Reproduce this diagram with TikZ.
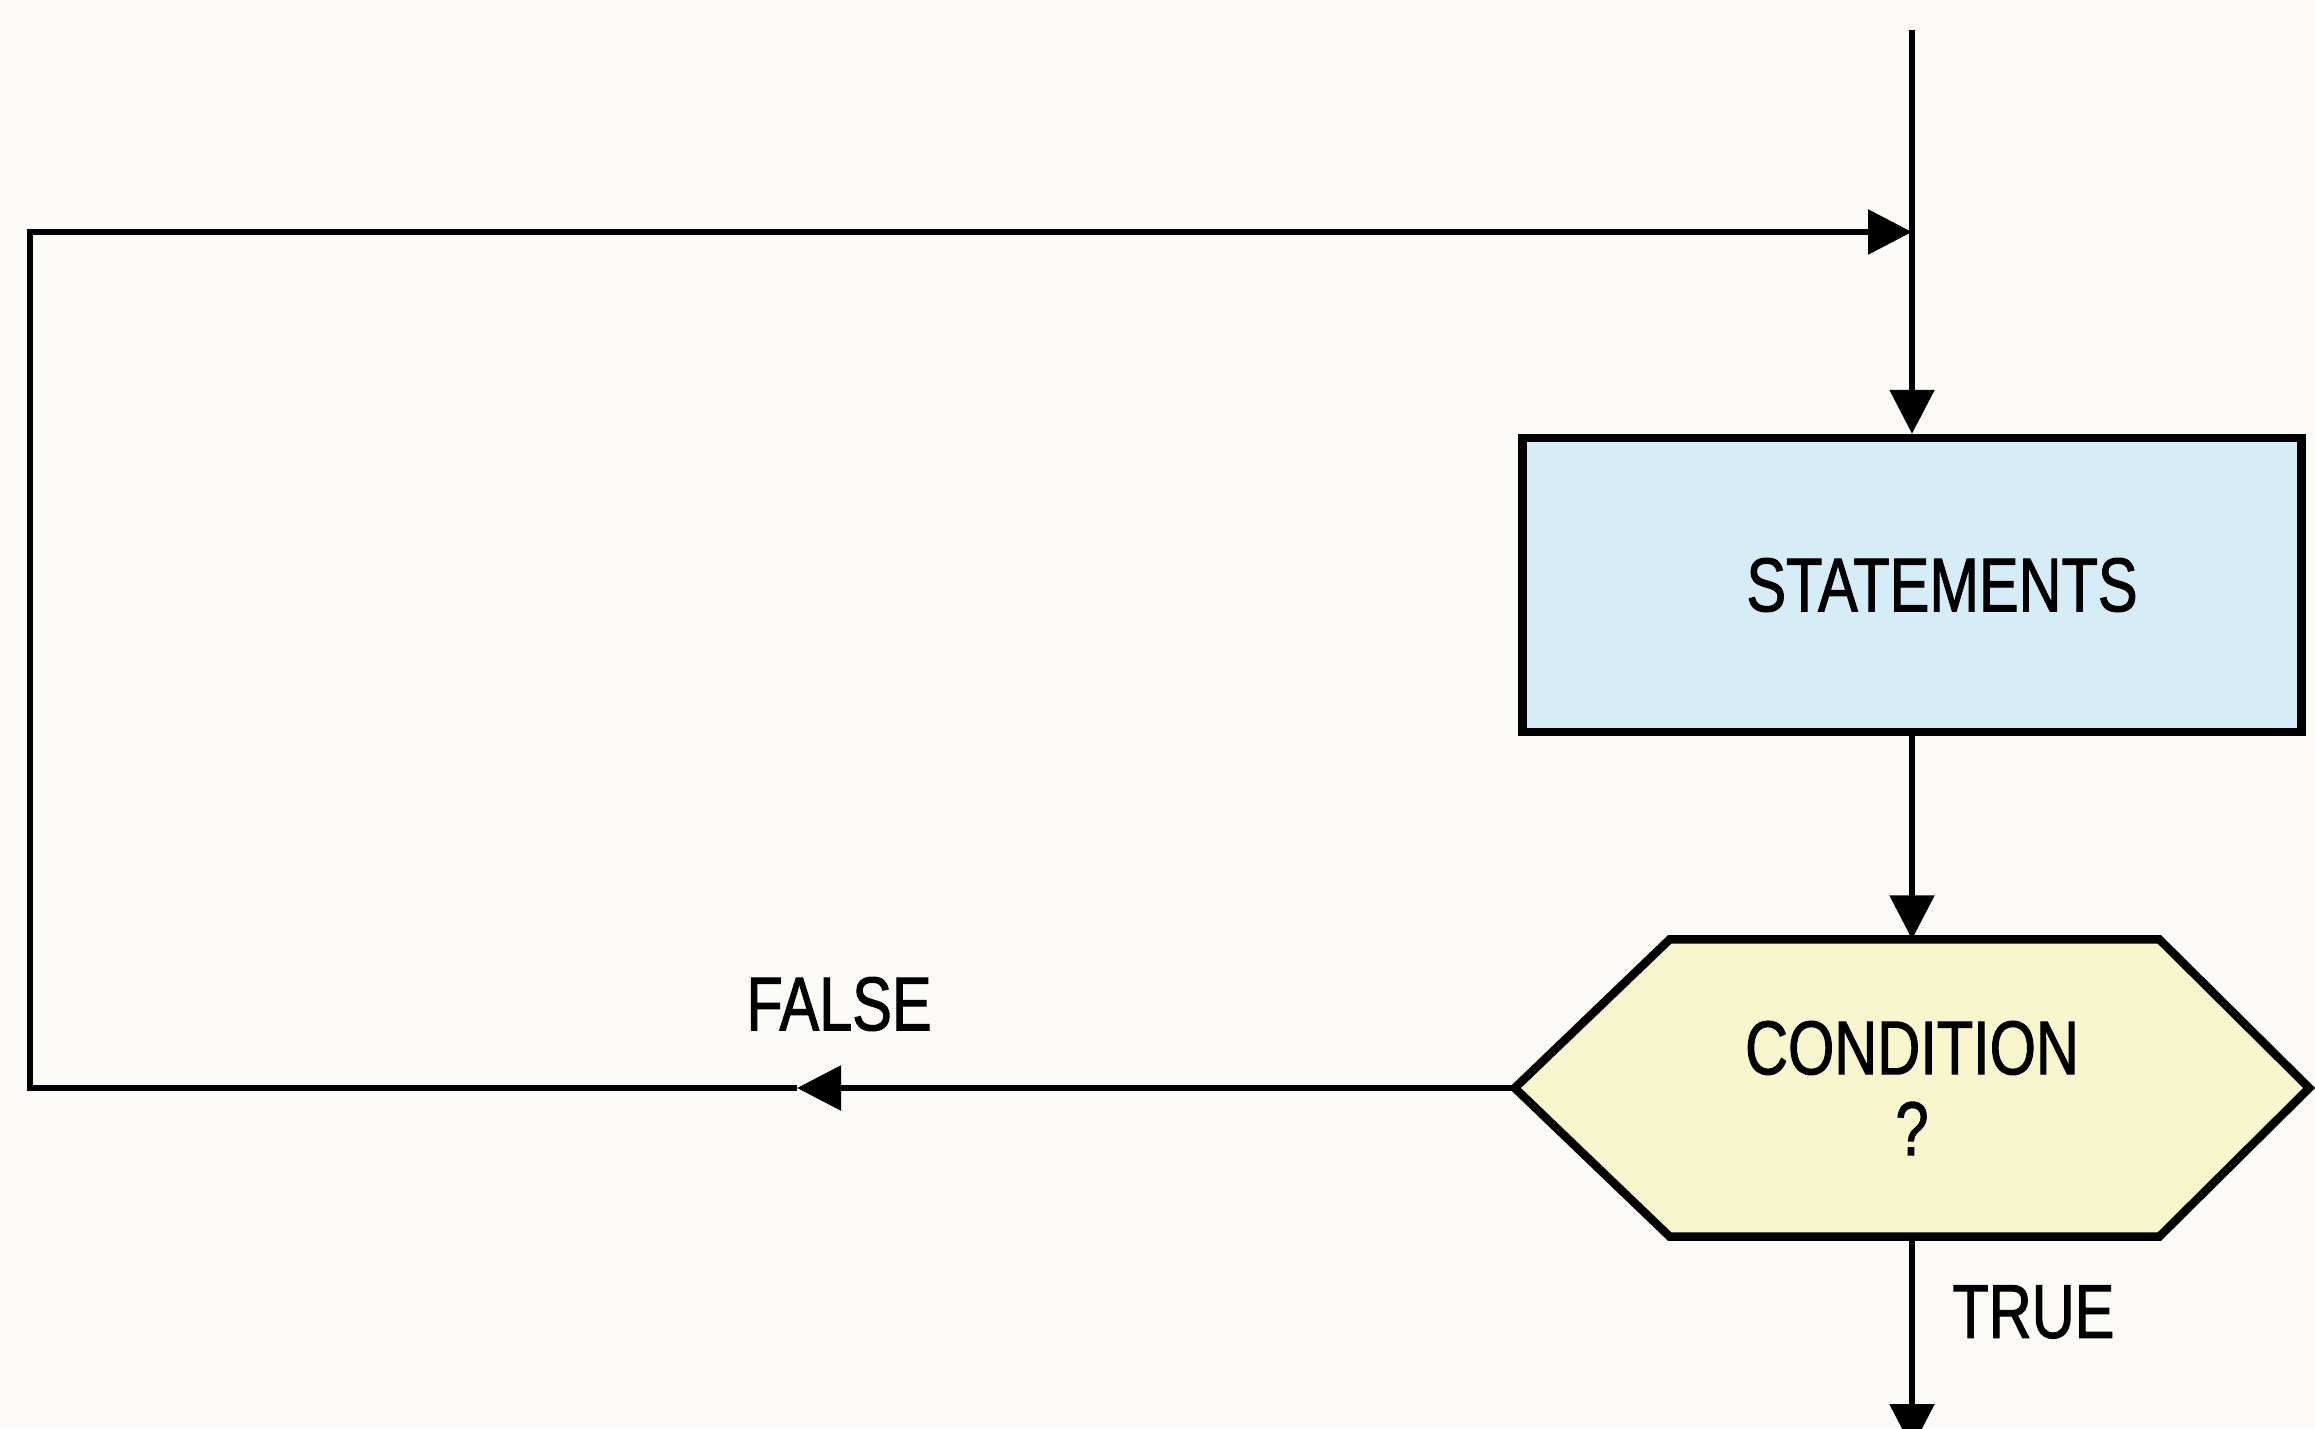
\documentclass[tikz,border=0pt]{standalone}
\usepackage{fontspec}
\setmainfont{Liberation Sans}[FakeStretch=0.78,FakeBold=1.3]
\usetikzlibrary{arrows.meta,backgrounds}
\definecolor{paper}{RGB}{251,250,247}
\definecolor{boxblue}{RGB}{214,236,246}
\definecolor{condyellow}{RGB}{248,246,206}
\newcommand{\flowfont}{\fontsize{21.7}{23}\selectfont}
\tikzset{
	flow/.style={line width=1.6pt, -{Triangle[length=4.4mm,width=4.4mm]}},
	stmtbox/.style={draw, line width=2.4pt, fill=boxblue, minimum width=7.79cm, minimum height=2.94cm, font=\flowfont},
	condbox/.style={minimum width=7.93cm, minimum height=2.96cm, align=center, font=\flowfont},
	lbl/.style={font=\flowfont}
}

\begin{document}
\begin{tikzpicture}
			%%%%% START %%%%%
			\useasboundingbox (0,0) rectangle (23.15,14.28);
			
			\coordinate (entry) at (19.12,13.98);
			\coordinate (join) at (19.12,11.96);
			\coordinate (exit) at (19.12,-0.2);
			
			\node[stmtbox] (stmt) at (19.12,8.43) {\hspace{0.6cm}STATEMENTS};
			\node[condbox] (cond) at (19.12,3.40) {CONDITION\\?};
			
			\begin{scope}[on background layer]
				\fill[paper] (0,0) rectangle (23.15,14.28);
				\draw[line width=2.4pt, fill=condyellow] (cond.west) -- ([xshift=1.55cm]cond.north west) -- ([xshift=-1.5cm]cond.north east) -- (cond.east) -- ([xshift=-1.5cm]cond.south east) -- ([xshift=1.55cm]cond.south west) -- cycle;
			\end{scope}
			
			\draw[flow] (entry) -- (stmt.north);
			\draw[flow] (stmt.south) -- (cond.north);
			\draw[flow] (cond.south) -- (exit);
			
			% false branch loops back
			\coordinate (falsetip) at (7.97,3.40);
			\coordinate (lowcorner) at (0.30,3.40);
			\coordinate (highcorner) at (0.30,11.96);
			\draw[flow] (cond.west) -- (falsetip);
			\draw[flow] (falsetip) -- (lowcorner) -- (highcorner) -- (join);
			
			\node[lbl] (falselbl) at (8.39,4.24) {FALSE};
			\node[lbl, anchor=west] (truelbl) at (19.40,1.16) {TRUE};
			%%%%% END %%%%%
\end{tikzpicture}
\end{document}
